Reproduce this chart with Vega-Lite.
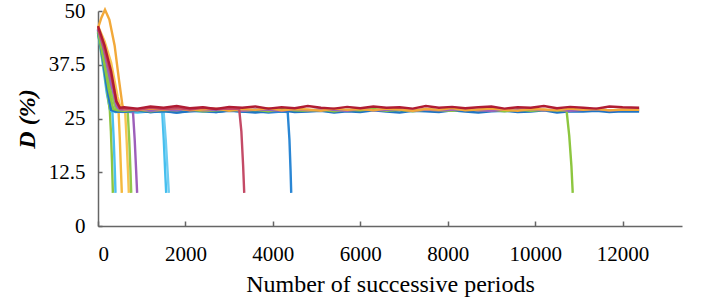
{
  "$schema": "https://vega.github.io/schema/vega-lite/v6.json",
  "autosize": "none",
  "width": 584,
  "height": 215,
  "padding": {"left": 98, "top": 11, "right": 20, "bottom": 76},
  "background": "white",
  "config": {"view": {"stroke": null}},
  "data": {"values": [
    {"s":"a","x":0,"y":45},{"s":"a","x":100,"y":38.5},{"s":"a","x":200,"y":31},{"s":"a","x":280,"y":26.8},{"s":"a","x":400,"y":26.5},{"s":"a","x":600,"y":26.6},{"s":"a","x":900,"y":26.4},{"s":"a","x":1200,"y":26.7},{"s":"a","x":1470,"y":26.5},{"s":"a","x":1505,"y":20},{"s":"a","x":1535,"y":13},{"s":"a","x":1560,"y":7.7},
    {"s":"b","x":0,"y":45.7},{"s":"b","x":100,"y":40},{"s":"b","x":200,"y":33},{"s":"b","x":300,"y":27},{"s":"b","x":420,"y":26.6},{"s":"b","x":600,"y":26.5},{"s":"b","x":900,"y":26.8},{"s":"b","x":1200,"y":26.5},{"s":"b","x":1500,"y":26.6},{"s":"b","x":1550,"y":20},{"s":"b","x":1590,"y":13},{"s":"b","x":1620,"y":7.7},
    {"s":"c","x":0,"y":45},{"s":"c","x":100,"y":39},{"s":"c","x":200,"y":32},{"s":"c","x":270,"y":27},{"s":"c","x":295,"y":22},{"s":"c","x":320,"y":15},{"s":"c","x":340,"y":7.7},
    {"s":"d","x":0,"y":45.5},{"s":"d","x":110,"y":39},{"s":"d","x":220,"y":31.5},{"s":"d","x":300,"y":26.7},{"s":"d","x":330,"y":26.5},{"s":"d","x":360,"y":20},{"s":"d","x":385,"y":13},{"s":"d","x":400,"y":7.7},
    {"s":"e","x":0,"y":46},{"s":"e","x":150,"y":41},{"s":"e","x":300,"y":34},{"s":"e","x":420,"y":27.5},{"s":"e","x":470,"y":26.8},{"s":"e","x":500,"y":20},{"s":"e","x":525,"y":13},{"s":"e","x":545,"y":7.7},
    {"s":"f","x":0,"y":46.5},{"s":"f","x":150,"y":43},{"s":"f","x":300,"y":38},{"s":"f","x":450,"y":30},{"s":"f","x":530,"y":27},{"s":"f","x":620,"y":26.8},{"s":"f","x":655,"y":20},{"s":"f","x":685,"y":13},{"s":"f","x":705,"y":7.7},
    {"s":"g","x":0,"y":45.8},{"s":"g","x":150,"y":39},{"s":"g","x":300,"y":31},{"s":"g","x":420,"y":26.8},{"s":"g","x":600,"y":26.7},{"s":"g","x":680,"y":26.5},{"s":"g","x":715,"y":20},{"s":"g","x":742,"y":13},{"s":"g","x":760,"y":7.7},
    {"s":"h","x":0,"y":45.5},{"s":"h","x":150,"y":40},{"s":"h","x":300,"y":33},{"s":"h","x":450,"y":27.5},{"s":"h","x":600,"y":26.8},{"s":"h","x":800,"y":26.6},{"s":"h","x":840,"y":20},{"s":"h","x":872,"y":13},{"s":"h","x":895,"y":7.7},
    {"s":"i","x":0,"y":45},{"s":"i","x":100,"y":39.5},{"s":"i","x":200,"y":32.5},{"s":"i","x":300,"y":27},{"s":"i","x":400,"y":26.7},{"s":"i","x":600,"y":26.6},{"s":"i","x":900,"y":26.8},{"s":"i","x":1200,"y":26.5},{"s":"i","x":1500,"y":26.7},{"s":"i","x":1800,"y":26.4},{"s":"i","x":2100,"y":26.8},{"s":"i","x":2400,"y":26.6},{"s":"i","x":2700,"y":26.5},{"s":"i","x":3000,"y":26.9},{"s":"i","x":3300,"y":26.6},{"s":"i","x":3600,"y":26.7},{"s":"i","x":3900,"y":26.4},{"s":"i","x":4200,"y":26.6},{"s":"i","x":4340,"y":26.5},{"s":"i","x":4380,"y":20},{"s":"i","x":4405,"y":13},{"s":"i","x":4420,"y":7.7},
    {"s":"j","x":0,"y":45.5},{"s":"j","x":100,"y":40},{"s":"j","x":200,"y":33},{"s":"j","x":300,"y":27},{"s":"j","x":420,"y":26.6},
    {"s":"j","x":600,"y":26.6},{"s":"j","x":900,"y":26.9},{"s":"j","x":1200,"y":26.5},{"s":"j","x":1500,"y":26.8},{"s":"j","x":1800,"y":26.4},{"s":"j","x":2100,"y":26.7},{"s":"j","x":2400,"y":26.9},{"s":"j","x":2700,"y":26.5},{"s":"j","x":3000,"y":26.8},{"s":"j","x":3300,"y":26.6},{"s":"j","x":3600,"y":26.4},{"s":"j","x":3900,"y":26.7},{"s":"j","x":4200,"y":26.9},{"s":"j","x":4500,"y":26.5},{"s":"j","x":4800,"y":26.6},{"s":"j","x":5100,"y":26.8},{"s":"j","x":5400,"y":26.4},{"s":"j","x":5700,"y":26.7},{"s":"j","x":6000,"y":26.5},{"s":"j","x":6300,"y":26.9},{"s":"j","x":6600,"y":26.6},{"s":"j","x":6900,"y":26.4},{"s":"j","x":7200,"y":26.8},{"s":"j","x":7500,"y":26.7},{"s":"j","x":7800,"y":26.5},{"s":"j","x":8100,"y":26.9},{"s":"j","x":8400,"y":26.6},{"s":"j","x":8700,"y":26.4},{"s":"j","x":9000,"y":26.7},{"s":"j","x":9300,"y":26.8},{"s":"j","x":9600,"y":26.5},{"s":"j","x":9900,"y":26.6},{"s":"j","x":10200,"y":26.9},{"s":"j","x":10500,"y":26.4},{"s":"j","x":10800,"y":26.7},{"s":"j","x":11100,"y":26.6},{"s":"j","x":11400,"y":26.8},{"s":"j","x":11700,"y":26.5},{"s":"j","x":12000,"y":26.7},{"s":"j","x":12380,"y":26.6},
    {"s":"k","x":0,"y":45.3},{"s":"k","x":120,"y":39},{"s":"k","x":250,"y":31.5},{"s":"k","x":350,"y":27.2},{"s":"k","x":450,"y":26.9},
    {"s":"k","x":600,"y":26.8},{"s":"k","x":900,"y":27.1},{"s":"k","x":1200,"y":26.7},{"s":"k","x":1500,"y":27},{"s":"k","x":1800,"y":26.9},{"s":"k","x":2100,"y":27.2},{"s":"k","x":2400,"y":26.7},{"s":"k","x":2700,"y":26.9},{"s":"k","x":3000,"y":27.1},{"s":"k","x":3300,"y":26.8},{"s":"k","x":3600,"y":27},{"s":"k","x":3900,"y":26.7},{"s":"k","x":4200,"y":27.2},{"s":"k","x":4500,"y":26.9},{"s":"k","x":4800,"y":26.8},{"s":"k","x":5100,"y":27.1},{"s":"k","x":5400,"y":26.7},{"s":"k","x":5700,"y":27},{"s":"k","x":6000,"y":26.9},{"s":"k","x":6300,"y":27.2},{"s":"k","x":6600,"y":26.8},{"s":"k","x":6900,"y":27},{"s":"k","x":7200,"y":26.7},{"s":"k","x":7500,"y":27.1},{"s":"k","x":7800,"y":26.9},{"s":"k","x":8100,"y":26.8},{"s":"k","x":8400,"y":27.2},{"s":"k","x":8700,"y":26.9},{"s":"k","x":9000,"y":27},{"s":"k","x":9300,"y":26.7},{"s":"k","x":9600,"y":27.1},{"s":"k","x":9900,"y":26.8},{"s":"k","x":10200,"y":27},{"s":"k","x":10500,"y":26.9},{"s":"k","x":10720,"y":26.8},{"s":"k","x":10780,"y":21},{"s":"k","x":10830,"y":14},{"s":"k","x":10860,"y":7.7},
    {"s":"l","x":0,"y":45.8},{"s":"l","x":150,"y":40.5},{"s":"l","x":300,"y":34},{"s":"l","x":420,"y":28},{"s":"l","x":500,"y":27.1},
    {"s":"l","x":600,"y":27},{"s":"l","x":900,"y":27.2},{"s":"l","x":1200,"y":26.8},{"s":"l","x":1500,"y":27.1},{"s":"l","x":1800,"y":26.9},{"s":"l","x":2100,"y":27.3},{"s":"l","x":2400,"y":26.9},{"s":"l","x":2700,"y":27},{"s":"l","x":3000,"y":27.2},{"s":"l","x":3300,"y":26.8},{"s":"l","x":3600,"y":27.1},{"s":"l","x":3900,"y":27},{"s":"l","x":4200,"y":26.8},{"s":"l","x":4500,"y":27.2},{"s":"l","x":4800,"y":26.9},{"s":"l","x":5100,"y":27.1},{"s":"l","x":5400,"y":27},{"s":"l","x":5700,"y":26.8},{"s":"l","x":6000,"y":27.3},{"s":"l","x":6300,"y":26.9},{"s":"l","x":6600,"y":27},{"s":"l","x":6900,"y":27.2},{"s":"l","x":7200,"y":26.8},{"s":"l","x":7500,"y":27.1},{"s":"l","x":7800,"y":26.9},{"s":"l","x":8100,"y":27},{"s":"l","x":8400,"y":27.2},{"s":"l","x":8700,"y":26.9},{"s":"l","x":9000,"y":26.8},{"s":"l","x":9300,"y":27.1},{"s":"l","x":9600,"y":27},{"s":"l","x":9900,"y":27.2},{"s":"l","x":10200,"y":26.9},{"s":"l","x":10500,"y":27.1},{"s":"l","x":10800,"y":26.8},{"s":"l","x":11100,"y":27},{"s":"l","x":11400,"y":27.2},{"s":"l","x":11700,"y":26.9},{"s":"l","x":12000,"y":27},{"s":"l","x":12380,"y":27.1},
    {"s":"m","x":0,"y":46},{"s":"m","x":80,"y":48.5},{"s":"m","x":160,"y":50.3},{"s":"m","x":260,"y":48},{"s":"m","x":380,"y":42},{"s":"m","x":480,"y":34},{"s":"m","x":560,"y":28},
    {"s":"m","x":600,"y":27.2},{"s":"m","x":900,"y":26.9},{"s":"m","x":1200,"y":27.3},{"s":"m","x":1500,"y":27},{"s":"m","x":1800,"y":27.4},{"s":"m","x":2100,"y":26.9},{"s":"m","x":2400,"y":27.1},{"s":"m","x":2700,"y":27.3},{"s":"m","x":3000,"y":26.8},{"s":"m","x":3300,"y":27.2},{"s":"m","x":3600,"y":27},{"s":"m","x":3900,"y":27.4},{"s":"m","x":4200,"y":26.9},{"s":"m","x":4500,"y":27.2},{"s":"m","x":4800,"y":27.1},{"s":"m","x":5100,"y":26.8},{"s":"m","x":5400,"y":27.3},{"s":"m","x":5700,"y":27},{"s":"m","x":6000,"y":27.2},{"s":"m","x":6300,"y":26.9},{"s":"m","x":6600,"y":27.3},{"s":"m","x":6900,"y":27.1},{"s":"m","x":7200,"y":26.8},{"s":"m","x":7500,"y":27.2},{"s":"m","x":7800,"y":27},{"s":"m","x":8100,"y":27.4},{"s":"m","x":8400,"y":26.9},{"s":"m","x":8700,"y":27.1},{"s":"m","x":9000,"y":27.3},{"s":"m","x":9300,"y":27},{"s":"m","x":9600,"y":26.8},{"s":"m","x":9900,"y":27.2},{"s":"m","x":10200,"y":27.1},{"s":"m","x":10500,"y":26.9},{"s":"m","x":10800,"y":27.3},{"s":"m","x":11100,"y":27},{"s":"m","x":11400,"y":27.2},{"s":"m","x":11700,"y":26.9},{"s":"m","x":12000,"y":27.1},{"s":"m","x":12380,"y":27},
    {"s":"n","x":0,"y":46},{"s":"n","x":150,"y":41},{"s":"n","x":300,"y":35},{"s":"n","x":420,"y":29},{"s":"n","x":500,"y":27.3},
    {"s":"n","x":600,"y":27.3},{"s":"n","x":900,"y":27},{"s":"n","x":1200,"y":27.5},{"s":"n","x":1500,"y":27.2},{"s":"n","x":1800,"y":27.4},{"s":"n","x":2100,"y":27.1},{"s":"n","x":2400,"y":27.5},{"s":"n","x":2700,"y":27.2},{"s":"n","x":3000,"y":27.3},{"s":"n","x":3230,"y":27.2},{"s":"n","x":3280,"y":22},{"s":"n","x":3320,"y":14},{"s":"n","x":3345,"y":7.7},
    {"s":"o","x":0,"y":46.5},{"s":"o","x":150,"y":42},{"s":"o","x":300,"y":36},{"s":"o","x":420,"y":29},{"s":"o","x":500,"y":27.5},
    {"s":"o","x":600,"y":27.6},{"s":"o","x":900,"y":27.3},{"s":"o","x":1200,"y":27.8},{"s":"o","x":1500,"y":27.5},{"s":"o","x":1800,"y":27.9},{"s":"o","x":2100,"y":27.4},{"s":"o","x":2400,"y":27.6},{"s":"o","x":2700,"y":27.2},{"s":"o","x":3000,"y":27.7},{"s":"o","x":3300,"y":27.5},{"s":"o","x":3600,"y":27.8},{"s":"o","x":3900,"y":27.3},{"s":"o","x":4200,"y":27.6},{"s":"o","x":4500,"y":27.4},{"s":"o","x":4800,"y":27.9},{"s":"o","x":5100,"y":27.5},{"s":"o","x":5400,"y":27.3},{"s":"o","x":5700,"y":27.7},{"s":"o","x":6000,"y":27.4},{"s":"o","x":6300,"y":27.8},{"s":"o","x":6600,"y":27.5},{"s":"o","x":6900,"y":27.6},{"s":"o","x":7200,"y":27.3},{"s":"o","x":7500,"y":27.9},{"s":"o","x":7800,"y":27.5},{"s":"o","x":8100,"y":27.7},{"s":"o","x":8400,"y":27.4},{"s":"o","x":8700,"y":27.6},{"s":"o","x":9000,"y":27.8},{"s":"o","x":9300,"y":27.3},{"s":"o","x":9600,"y":27.6},{"s":"o","x":9900,"y":27.5},{"s":"o","x":10200,"y":27.9},{"s":"o","x":10500,"y":27.4},{"s":"o","x":10800,"y":27.7},{"s":"o","x":11100,"y":27.5},{"s":"o","x":11400,"y":27.3},{"s":"o","x":11700,"y":27.8},{"s":"o","x":12000,"y":27.6},{"s":"o","x":12380,"y":27.5}
  ]},
  "mark": {"type": "line", "strokeWidth": 2.4, "clip": false},
  "encoding": {
    "x": {"field": "x", "type": "quantitative",
      "scale": {"domain": [0, 13360], "nice": false, "zero": true},
      "axis": {"values": [0,2000,4000,6000,8000,10000,12000], "format": "d", "grid": false,
        "domainColor": "#666", "domainWidth": 1.5, "tickColor": "#666", "tickSize": -5, "tickWidth": 1.5,
        "labelFont": "Liberation Serif", "labelFontSize": 21, "labelColor": "#000", "labelPadding": 22,
        "title": "Number of successive periods", "titleFont": "Liberation Serif", "titleFontSize": 24,
        "titleFontWeight": "normal", "titleColor": "#000", "titlePadding": 8}},
    "y": {"field": "y", "type": "quantitative",
      "scale": {"domain": [0, 50], "nice": false},
      "axis": {"values": [0,12.5,25,37.5,50], "format": ".1~f", "grid": false,
        "domainColor": "#666", "domainWidth": 1.5, "tickColor": "#666", "tickSize": -4, "tickWidth": 1.5,
        "labelFont": "Liberation Serif", "labelFontSize": 21, "labelColor": "#000", "labelPadding": 17,
        "title": "D (%)", "titleFont": "Liberation Serif", "titleFontSize": 24, "titleFontWeight": "bold",
        "titleFontStyle": "italic", "titleColor": "#000", "titlePadding": 9}},
    "color": {"field": "s", "type": "nominal", "legend": null,
      "scale": {"domain": ["a","b","c","d","e","f","g","h","i","j","k","l","m","n","o"],
        "range": ["#45bfee","#6fcdf2","#8cc540","#4cbfee","#f5b93e","#f7c451","#93c94a","#9d5fba","#2a86d4","#1f74c4","#8dc63f","#9b63bb","#f2a93a","#c44a66","#b01c33"]}}
  }
}
